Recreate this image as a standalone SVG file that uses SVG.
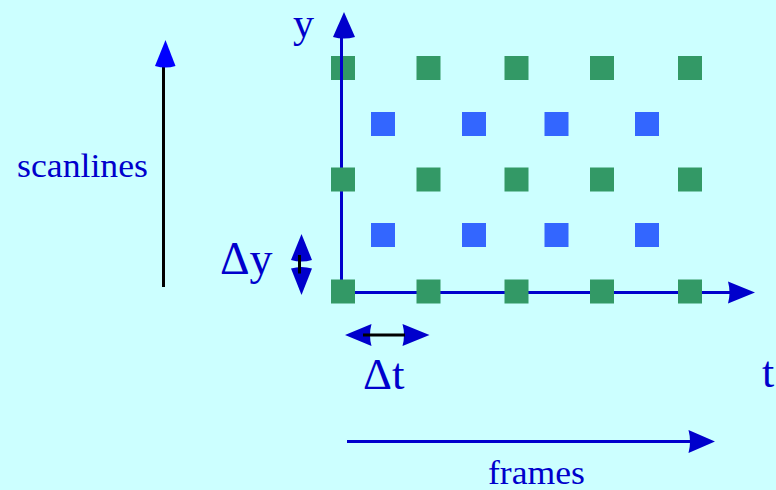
<svg xmlns="http://www.w3.org/2000/svg" width="776" height="490" viewBox="0 0 776 490">
<style>
.t{font-family:'Liberation Serif','Times New Roman',serif;fill:#0000cc}
.g{fill:#339966}
.b{fill:#3366ff}
.ax{stroke:#0000cc;stroke-width:3;fill:none}
.hd{fill:#0000cc}
.bk{stroke:#000;stroke-width:3;fill:none}
</style>
<rect width="776" height="490" fill="#ccffff"/>
<g id="grid-top">
<rect class="g" x="331" y="56" width="24" height="24"/>
<rect class="g" x="416.5" y="56" width="24" height="24"/>
<rect class="g" x="504.5" y="56" width="24" height="24"/>
<rect class="g" x="590" y="56" width="24" height="24"/>
<rect class="g" x="678" y="56" width="24" height="24"/>
</g>
<g id="axes">
<line class="ax" x1="341.5" y1="293" x2="341.5" y2="30"/>
<path class="hd" d="M344,12 L355,37 Q344,40 333,37 Z"/>
<line class="ax" x1="341" y1="292.5" x2="735" y2="292.5"/>
<path class="hd" d="M755,292.5 L728,281.5 Q731,292.5 728,303.5 Z"/>
</g>
<g id="grid-rest">
<rect class="b" x="371" y="112" width="24" height="24"/>
<rect class="b" x="462" y="112" width="24" height="24"/>
<rect class="b" x="544.5" y="112" width="24" height="24"/>
<rect class="b" x="635" y="112" width="24" height="24"/>
<rect class="g" x="331" y="167.5" width="24" height="24"/>
<rect class="g" x="416.5" y="167.5" width="24" height="24"/>
<rect class="g" x="504.5" y="167.5" width="24" height="24"/>
<rect class="g" x="590" y="167.5" width="24" height="24"/>
<rect class="g" x="678" y="167.5" width="24" height="24"/>
<rect class="b" x="371" y="223" width="24" height="24"/>
<rect class="b" x="462" y="223" width="24" height="24"/>
<rect class="b" x="544.5" y="223" width="24" height="24"/>
<rect class="b" x="635" y="223" width="24" height="24"/>
<rect class="g" x="331" y="279.5" width="24" height="24"/>
<rect class="g" x="416.5" y="279.5" width="24" height="24"/>
<rect class="g" x="504.5" y="279.5" width="24" height="24"/>
<rect class="g" x="590" y="279.5" width="24" height="24"/>
<rect class="g" x="678" y="279.5" width="24" height="24"/>
</g>
<g id="scanlines-arrow">
<line class="bk" x1="163.5" y1="287" x2="163.5" y2="62"/>
<path d="M165.5,40 L175.5,66 Q165.5,69 155,66 Z" fill="#0000ff"/>
</g>
<g id="dy-arrow">
<path class="hd" d="M301.5,234 L312,260 Q301.5,263 291,260 Z"/>
<path class="hd" d="M301.5,295 L312,268.5 Q301.5,265.5 291,268.5 Z"/>
<line class="bk" x1="299.5" y1="255" x2="299.5" y2="273.5"/>
</g>
<g id="dt-arrow">
<path class="hd" d="M345,335 L371.5,324 Q368.5,335 371.5,346 Z"/>
<path class="hd" d="M429.5,335 L402.5,324 Q405.5,335 402.5,346 Z"/>
<line class="bk" x1="363" y1="335" x2="405" y2="335"/>
</g>
<g id="frames-arrow">
<line class="ax" x1="347" y1="441.5" x2="695" y2="441.5"/>
<path class="hd" d="M715,441.5 L688.5,430 Q691.5,441.5 688.5,453 Z"/>
</g>
<g id="labels">
<text class="t" x="293" y="37" font-size="42">y</text>
<text class="t" x="17" y="176.5" font-size="34" textLength="131" lengthAdjust="spacingAndGlyphs">scanlines</text>
<text class="t" x="220" y="273.5" font-size="46">Δy</text>
<text class="t" x="363" y="389" font-size="45">Δt</text>
<text class="t" x="762" y="387" font-size="44">t</text>
<text class="t" x="488" y="483.5" font-size="33" textLength="97" lengthAdjust="spacingAndGlyphs">frames</text>
</g>
</svg>
